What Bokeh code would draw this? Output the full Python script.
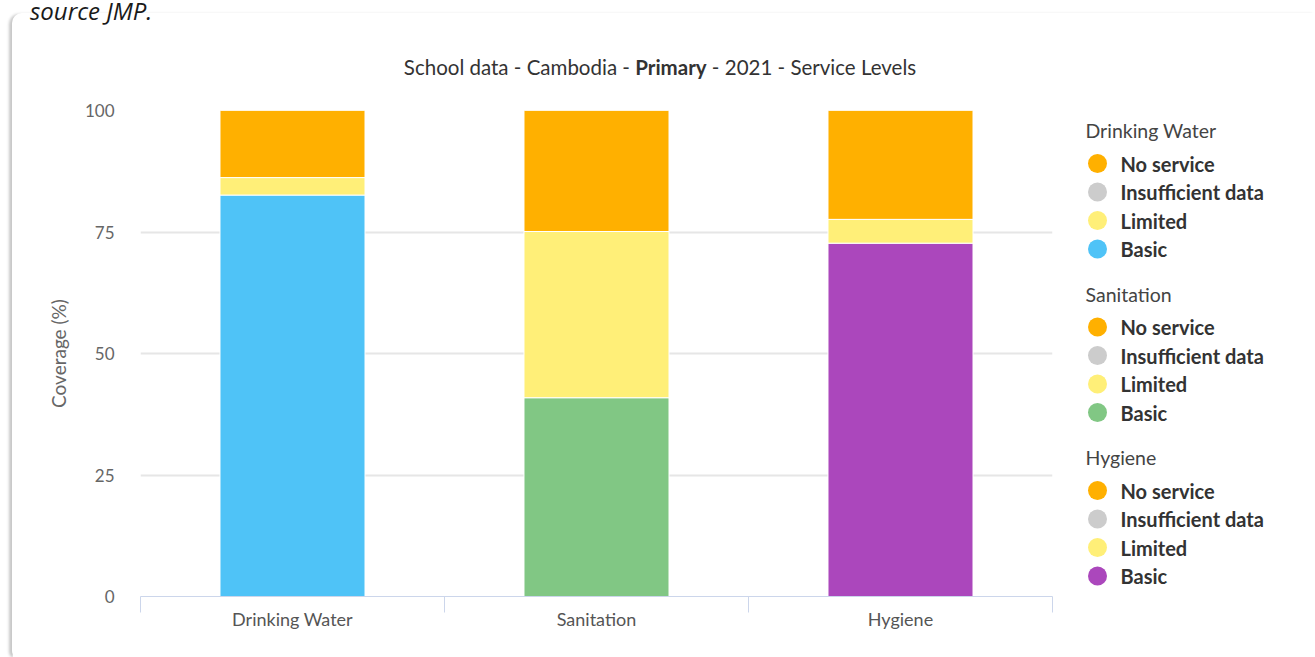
import numpy as np
from bokeh.plotting import figure
from bokeh.layouts import row, column
from bokeh.models import Range1d, FixedTicker, Div
from bokeh.core.properties import value
from bokeh.embed import file_html
from bokeh.resources import INLINE

# ---- data -------------------------------------------------------------
categories = ["Drinking Water", "Sanitation", "Hygiene"]
basic = [82.6, 40.9, 72.7]
limited = [3.6, 34.2, 4.9]
no_service = [13.8, 24.9, 22.4]

legend_levels = ["No service", "Insufficient data", "Limited", "Basic"]
y_ticks = [0, 25, 50, 75, 100]

# ---- styling ----------------------------------------------------------
C_NOSERV = "#FFB000"
C_INSUFF = "#CCCCCC"
C_LIMITED = "#FFEF78"
C_BASIC = ["#4FC3F7", "#81C784", "#AB47BC"]
FONT = "Lato"

PAGE_W, PAGE_H = 1315, 657
CARD_X, CARD_Y = 12, 13            # top-left corner of the white card
TITLE_H = 80                       # header strip inside the card
FIG_Y = CARD_Y + TITLE_H           # page y where the figures start
FIG_H = PAGE_H - FIG_Y
FRAME_L, FRAME_R, FRAME_T, FRAME_B = 140, 1052, 110, 596   # page pixels
LEG_X0 = 1070
W_MAIN = LEG_X0 - CARD_X
W_LEG = PAGE_W - LEG_X0
N = len(categories)

p = figure(width=W_MAIN, height=FIG_H, output_backend="svg", toolbar_location=None,
           x_range=Range1d(0, N), y_range=Range1d(0, 100),
           min_border_left=FRAME_L - CARD_X, min_border_right=LEG_X0 - FRAME_R,
           min_border_top=FRAME_T - FIG_Y, min_border_bottom=PAGE_H - FRAME_B,
           margin=0)
p.outline_line_color = None
p.background_fill_color = "white"
p.border_fill_color = "white"

# stacked segments
xs = np.arange(N) + 0.5
b = np.array(basic)
l = np.array(limited)
n = np.array(no_service)
bar_w = 0.477
p.vbar(x=xs, bottom=0, top=b, width=bar_w, fill_color=C_BASIC,
       line_color="white", line_width=1)
p.vbar(x=xs, bottom=b, top=b + l, width=bar_w, fill_color=C_LIMITED,
       line_color="white", line_width=1)
p.vbar(x=xs, bottom=b + l, top=b + l + n, width=bar_w, fill_color=C_NOSERV,
       line_color="white", line_width=1)

# axes
p.xgrid.visible = False
p.ygrid.grid_line_color = "#e6e6e6"
p.ygrid.grid_line_width = 2
p.yaxis.ticker = FixedTicker(ticks=y_ticks)
p.yaxis.axis_line_color = None
p.yaxis.major_tick_line_color = None
p.yaxis.minor_tick_line_color = None
p.yaxis.major_label_text_font = FONT
p.yaxis.major_label_text_font_size = "17px"
p.yaxis.major_label_text_color = "#666666"
p.yaxis.major_label_standoff = 20
p.yaxis.axis_label = "Coverage (%)"
p.yaxis.axis_label_text_font = FONT
p.yaxis.axis_label_text_font_style = "normal"
p.yaxis.axis_label_text_font_size = "19px"
p.yaxis.axis_label_text_color = "#666666"
p.yaxis.axis_label_standoff = 12

p.xaxis.ticker = FixedTicker(ticks=list(xs), minor_ticks=list(range(N + 1)))
p.xaxis.major_label_overrides = {float(x): c for x, c in zip(xs, categories)}
p.xaxis.axis_line_color = "#ccd6eb"
p.xaxis.axis_line_width = 1
p.xaxis.major_tick_line_color = None
p.xaxis.minor_tick_line_color = "#ccd6eb"
p.xaxis.minor_tick_in = 0
p.xaxis.minor_tick_out = 16
p.xaxis.major_label_text_font = FONT
p.xaxis.major_label_text_font_size = "18px"
p.xaxis.major_label_text_color = "#555555"
p.xaxis.major_label_standoff = -5

# ---- legend panel (page-pixel coordinates) ----------------------------
leg = figure(width=W_LEG, height=FIG_H, output_backend="svg", toolbar_location=None,
             x_range=Range1d(LEG_X0, PAGE_W), y_range=Range1d(FRAME_B, FRAME_T),
             min_border_left=0, min_border_right=0,
             min_border_top=FRAME_T - FIG_Y, min_border_bottom=PAGE_H - FRAME_B,
             margin=0)
leg.axis.visible = False
leg.grid.visible = False
leg.outline_line_color = None
leg.border_fill_color = "white"

GROUP_TOP, GROUP_STEP, ITEM_OFF, ITEM_STEP = 130, 163.5, 33, 28.5
head_y, dot_y, dot_c, item_t = [], [], [], []
for gi, g in enumerate(categories):
    gy = GROUP_TOP + gi * GROUP_STEP
    head_y.append(gy)
    cols = [C_NOSERV, C_INSUFF, C_LIMITED, C_BASIC[gi]]
    for li, lvl in enumerate(legend_levels):
        dot_y.append(gy + ITEM_OFF + li * ITEM_STEP)
        dot_c.append(cols[li])
        item_t.append(lvl)

leg.text(x=[LEG_X0 + 15] * len(categories), y=head_y, text=categories,
         text_font=value(FONT), text_font_size="19.5px", text_color="#444444",
         text_baseline="middle")
leg.scatter(x=[LEG_X0 + 27] * len(dot_y), y=dot_y, size=19, fill_color=dot_c,
            line_color=None)
leg.text(x=[LEG_X0 + 50] * len(dot_y), y=dot_y, text=item_t, text_font=value(FONT),
         text_font_size="20px", text_font_style="bold", text_color="#333333",
         text_baseline="middle")

# ---- header texts and card --------------------------------------------
src = Div(text="source JMP.", width=PAGE_W, height=CARD_Y, margin=0,
          styles={"overflow": "visible", "font-family": "Open Sans", "font-style": "italic",
                  "font-size": "24px", "line-height": "22px", "color": "#1a1a1a",
                  "padding-left": "30px", "white-space": "nowrap", "z-index": "2"})

title = Div(text="School data - Cambodia - <b>Primary</b> - 2021 - Service Levels",
            width=W_MAIN + W_LEG, height=TITLE_H, margin=0,
            styles={"font-family": FONT, "font-size": "20.5px", "color": "#333333",
                    "text-align": "center", "line-height": "108px",
                    "white-space": "nowrap", "padding-right": "7px"})

card = column(title, row(p, leg, margin=0, spacing=0), margin=(0, 0, 0, CARD_X),
              spacing=0,
              styles={"box-shadow": "-3px 1px 3px rgba(0,0,0,0.22)",
                      "border-top-left-radius": "10px",
                      "border-bottom-left-radius": "6px"})

layout = column(src, card, margin=0, spacing=0)
open("out.html", "w").write(file_html(layout, INLINE))
